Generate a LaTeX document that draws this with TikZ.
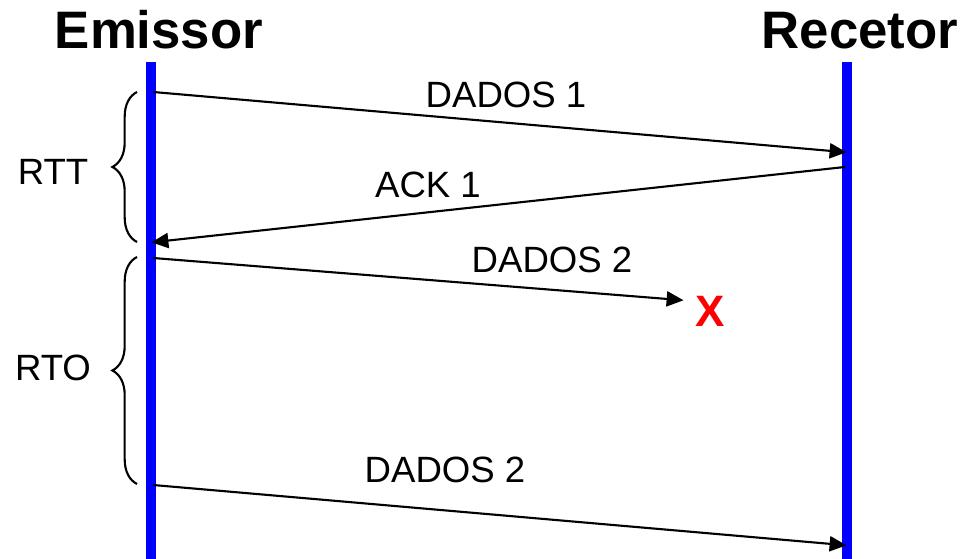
\documentclass[tikz,border=0pt]{standalone}
\usepackage{fontspec}
\setmainfont{Liberation Sans}
\usetikzlibrary{arrows.meta,decorations.pathreplacing}
\begin{document}
\begin{tikzpicture}[>={Triangle[length=4.8pt,width=4.3pt]}, x=0.01cm, y=-0.01cm]
    \def\xe{151}
    \def\xr{847}
    \useasboundingbox (0,0) rectangle (963,559);

    \tikzset{
      vida/.style={blue, line width=2.6pt},
      msg/.style={->, line width=0.6pt, shorten >=-1pt},
      rotulo/.style={font=\fontsize{10.4}{12}\selectfont, inner sep=0pt},
      chaveta/.style={decorate, decoration={brace, amplitude=7pt}, line width=0.6pt}
    }

    % linhas de vida
    \draw[vida] (\xe,62) -- (\xe,559);
    \draw[vida] (\xr,62) -- (\xr,559);
    \node[font=\bfseries\fontsize{15}{18}\selectfont, anchor=base] (emissor) at (159,49) {Emissor};
    \node[font=\bfseries\fontsize{15}{18}\selectfont, anchor=base] (recetor) at (860,49) {Recetor};

    \coordinate (e1) at (153,92);
    \coordinate (r1) at (843,152);
    \coordinate (r2) at (845,167);
    \coordinate (e2) at (155,242);
    \coordinate (e3) at (153,258);
    \coordinate (perda) at (680,300);
    \coordinate (e4) at (153,485);
    \coordinate (r4) at (843,545);

    \draw[msg] (e1) -- (r1);
    \draw[msg] (r2) -- (e2);
    \draw[msg] (e3) -- (perda);
    \draw[msg] (e4) -- (r4);

    \node[rotulo] (dados1) at (506,95) {DADOS 1};
    \node[rotulo] (ack1) at (428,185) {ACK 1};
    \node[rotulo] (dados2) at (552,260) {DADOS 2};
    \node[rotulo] (dados2b) at (445,470) {DADOS 2};
    \node[red, font=\bfseries\fontsize{12.5}{15}\selectfont, inner sep=0pt] (x) at (710,311) {X};

    % chavetas
    \coordinate (rtt-a) at (137,242);
    \coordinate (rtt-b) at (137,92);
    \coordinate (rto-a) at (137,484);
    \coordinate (rto-b) at (137,257);
    \draw[chaveta] (rtt-a) -- (rtt-b);
    \draw[chaveta] (rto-a) -- (rto-b);
    \node[rotulo] (rtt) at (53,172) {RTT};
    \node[rotulo] (rto) at (53,368) {RTO};
\end{tikzpicture}
\end{document}
